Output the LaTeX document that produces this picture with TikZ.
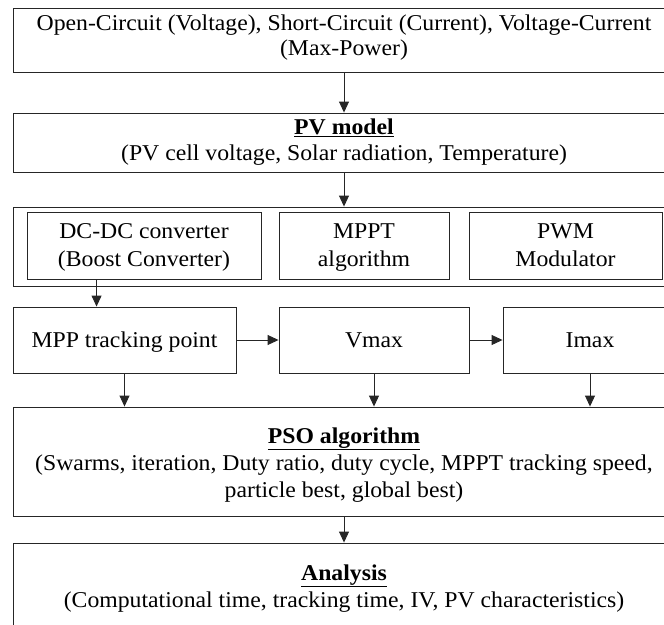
\documentclass[tikz,border=0pt]{standalone}
\usepackage{fontspec}
\setmainfont[FakeStretch=1.05]{Liberation Serif}
\usetikzlibrary{arrows.meta}
\begin{document}
\begin{tikzpicture}[x=1pt,y=-1pt,
  box/.style={draw=black!85,line width=0.9pt,rectangle,inner sep=0pt},
  txt/.style={anchor=base,inner sep=0pt,font=\fontsize{22.6pt}{25pt}\selectfont},
  arr/.style={draw=black!85,line width=0.9pt,-{Triangle[length=11pt,width=10pt]}}]
\useasboundingbox (0,0) rectangle (664,624);
\clip (0,0) rectangle (664,624);
% boxes
\node[box,minimum width=662pt,minimum height=64pt] (top) at (344,40) {};
\node[box,minimum width=662pt,minimum height=59pt] (pv) at (344,142.5) {};
\node[box,minimum width=662pt,minimum height=79pt] (outer) at (344,246.5) {};
\node[box,minimum width=234pt,minimum height=67pt] (dcdc) at (144,245.5) {};
\node[box,minimum width=170pt,minimum height=67pt] (mppt) at (364,245.5) {};
\node[box,minimum width=193pt,minimum height=67pt] (pwm) at (565.5,245.5) {};
\node[box,minimum width=223pt,minimum height=66pt] (mpp) at (124.5,340) {};
\node[box,minimum width=190pt,minimum height=66pt] (vmax) at (374,340) {};
\node[box,minimum width=174pt,minimum height=66pt] (imax) at (590,340) {};
\node[box,minimum width=662pt,minimum height=109pt] (pso) at (344,461.5) {};
\node[box,minimum width=662pt,minimum height=97pt] (ana) at (344,591.5) {};
% texts
\node[txt] (t1) at (344,30) {Open-Circuit (Voltage), Short-Circuit (Current), Voltage-Current};
\node[txt] (t2) at (344,55) {(Max-Power)};
\node[txt] (pv1) at (344,134) {\underline{\textbf{PV model}}};
\node[txt] (pv2) at (344,160) {(PV cell voltage, Solar radiation, Temperature)};
\node[txt] (d1) at (144,238) {DC-DC converter};
\node[txt] (d2) at (144,266) {(Boost Converter)};
\node[txt] (m1) at (364,238) {MPPT};
\node[txt] (m2) at (364,266) {algorithm};
\node[txt] (p1) at (565.5,238) {PWM};
\node[txt] (p2) at (565.5,266) {Modulator};
\node[txt] (mt) at (124.5,347) {MPP tracking point};
\node[txt] (vt) at (374,347) {Vmax};
\node[txt] (it) at (590,347) {Imax};
\node[txt] (s1) at (344,443) {\underline{\textbf{PSO algorithm}}};
\node[txt] (s2) at (344,470) {(Swarms, iteration, Duty ratio, duty cycle, MPPT tracking speed,};
\node[txt] (s3) at (344,497) {particle best, global best)};
\node[txt] (a1) at (344,580) {\underline{\textbf{Analysis}}};
\node[txt] (a2) at (344,607) {(Computational time, tracking time, IV, PV characteristics)};
% connectors
\draw[arr] (top) -- (pv);
\draw[arr] (pv) -- (outer);
\draw[arr] ([xshift=70pt]dcdc.south west) -- ([xshift=70pt]dcdc.south west |- mpp.north);
\draw[arr] (mpp) -- (vmax);
\draw[arr] (vmax) -- (imax);
\draw[arr] (mpp.south) -- (mpp.south |- pso.north);
\draw[arr] (vmax.south) -- (vmax.south |- pso.north);
\draw[arr] (imax.south) -- (imax.south |- pso.north);
\draw[arr] (pso) -- (ana);
\end{tikzpicture}
\end{document}
